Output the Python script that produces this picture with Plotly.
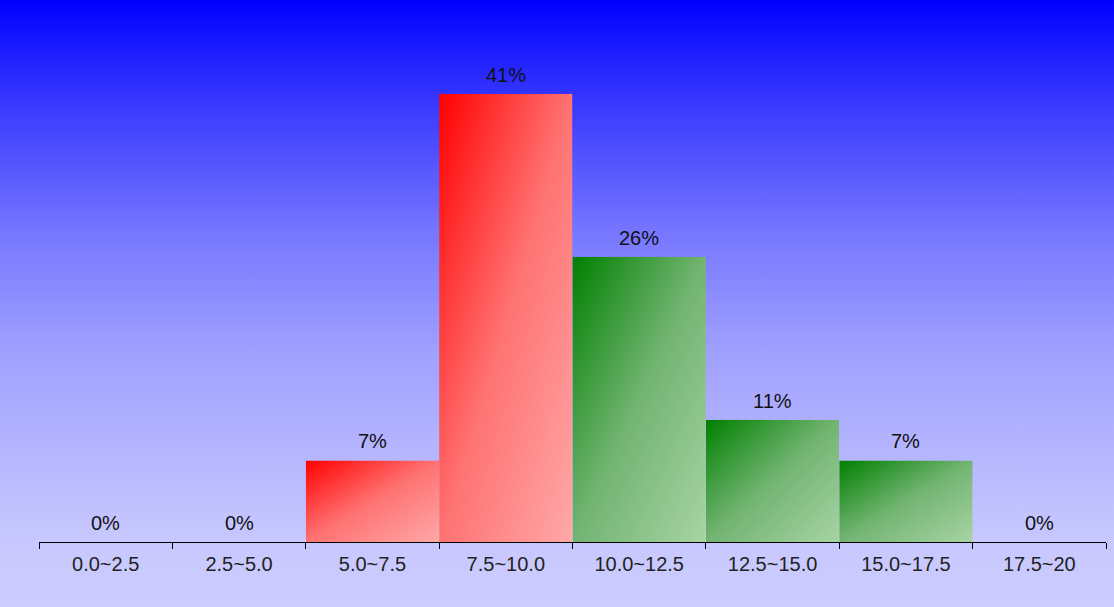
import base64

import plotly.graph_objects as go

# bins of the histogram and their share (in %)
BINS = ["0.0~2.5", "2.5~5.0", "5.0~7.5", "7.5~10.0",
        "10.0~12.5", "12.5~15.0", "15.0~17.5", "17.5~20"]
SHARE = [0, 0, 7.41, 40.74, 25.93, 11.11, 7.41, 0]
TONE = ["red", "red", "red", "red", "green", "green", "green", "green"]

# diagonal fill stops per tone (offset, colour)
GRADIENTS = {
    "red": [(0, "#ff0000"), (0.5, "#ff7272"), (1, "#ffa8a8")],
    "green": [(0, "#008000"), (0.5, "#72b472"), (1, "#a8d4a4")],
}
# page background stops, blue on top fading to lavender
BG_STOPS = [(0, "#0000ff"), (0.165, "#3737ff"), (0.39, "#7878ff"),
            (0.58, "#a0a0ff"), (0.89, "#c8c8ff"), (1, "#ccccff")]

W, H = 1114, 607
MARGIN = dict(l=39, r=8, t=47, b=65)
YMAX = 45


def svg_uri(svg: str) -> str:
    return "data:image/svg+xml;base64," + base64.b64encode(svg.encode()).decode()


def gradient_svg(stops, x2: int, y2: int) -> str:
    stop_xml = "".join(f'<stop offset="{o}" stop-color="{c}"/>' for o, c in stops)
    return (
        '<svg xmlns="http://www.w3.org/2000/svg" width="100" height="100" '
        'preserveAspectRatio="none">'
        f'<defs><linearGradient id="g" x1="0" y1="0" x2="{x2}" y2="{y2}">'
        f'{stop_xml}</linearGradient></defs>'
        '<rect width="100" height="100" fill="url(#g)"/></svg>'
    )


idx = list(range(len(BINS)))

fig = go.Figure(go.Bar(
    x=idx, y=SHARE, width=1,
    marker=dict(color="rgba(0,0,0,0)", line=dict(width=0)),
    hovertext=BINS, hoverinfo="text+y",
))

pw = W - MARGIN["l"] - MARGIN["r"]
ph = H - MARGIN["t"] - MARGIN["b"]
images = [dict(
    source=svg_uri(gradient_svg(BG_STOPS, 0, 1)),
    xref="paper", yref="paper",
    x=-MARGIN["l"] / pw, y=1 + MARGIN["t"] / ph,
    sizex=W / pw, sizey=H / ph,
    xanchor="left", yanchor="top", sizing="stretch", layer="below",
)]

# diagonal gradient fill for every bar, placed on the data axes
for i, v, tone in zip(idx, SHARE, TONE):
    if v <= 0:
        continue
    images.append(dict(
        source=svg_uri(gradient_svg(GRADIENTS[tone], 1, 1)),
        xref="x", yref="y", x=i - 0.5, y=v, sizex=1, sizey=v,
        xanchor="left", yanchor="top", sizing="stretch", layer="below",
    ))

annotations = [dict(
    x=i, y=v, text=f"{round(v)}%", showarrow=False,
    yanchor="bottom", yshift=6, font=dict(size=20, color="#111"),
) for i, v in zip(idx, SHARE)]

fig.update_layout(
    width=W, height=H, margin=MARGIN,
    paper_bgcolor="#ccccff", plot_bgcolor="rgba(0,0,0,0)",
    font=dict(family="Liberation Sans, Arial, sans-serif", size=20, color="#222"),
    images=images, annotations=annotations,
    showlegend=False, bargap=0,
    xaxis=dict(
        range=[-0.5, len(BINS) - 0.5], tickmode="array",
        tickvals=idx, ticktext=BINS, ticks="", ticklabelstandoff=4,
        showline=True, linecolor="black", linewidth=1,
        showgrid=False, zeroline=False, fixedrange=True,
        minor=dict(tickmode="array", tickvals=[i - 0.5 for i in idx] + [len(BINS) - 0.5],
                   ticks="outside", ticklen=6, tickcolor="black", tickwidth=1,
                   showgrid=False),
    ),
    yaxis=dict(range=[0, YMAX], visible=False, fixedrange=True),
)

fig.write_html("out.html", config={"displayModeBar": False},
               post_script="document.body.style.margin = '0';")
